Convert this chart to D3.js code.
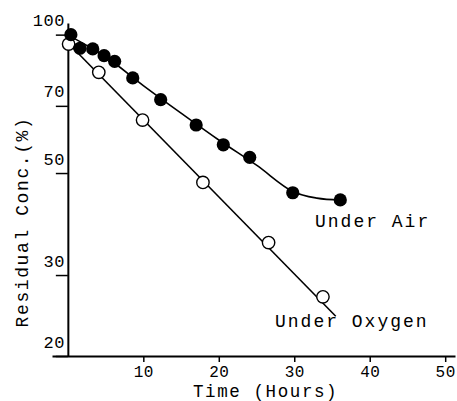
<!DOCTYPE html>
<html>
<head>
<meta charset="utf-8">
<script src="https://cdn.jsdelivr.net/npm/d3@7"></script>
<style>
	html, body { margin: 0; padding: 0; background: #fff; }
	svg { display: block; }
	text { font-family: "Liberation Mono", "DejaVu Sans Mono", monospace; fill: #000; }
</style>
</head>
<body>
<div id="chart"></div>
<script>
(function (d3) {

	// Under Air (filled dots)
	var air_time = [0.4, 1.6, 3.3, 4.8, 6.2, 8.6, 12.3, 17.0, 20.6, 24.1, 29.8, 36.1];
	var air_conc = [100, 93.4, 93.1, 90.0, 87.5, 80.5, 72.2, 63.6, 57.6, 54.1, 45.3, 43.7];

	// Under Oxygen (open dots)
	var oxy_time = [0.1, 4.1, 9.9, 17.9, 26.6, 33.8];
	var oxy_conc = [95.4, 82.8, 65.2, 47.7, 35.3, 26.9];

	// hand drawn fit lines
	var air_fit = [[0.4, 99], [5, 89.5], [10, 77.5], [15, 67.5], [20, 59], [25, 52], [29.8, 45.6], [33, 44.1], [36.1, 43.7]];
	var oxy_fit = [[0, 96], [35.5, 24.4]];

	var x_ticks = [10, 20, 30, 40, 50];
	var y_ticks = [20, 30, 50, 70, 100];

	var width = 457, height = 401;

	var svg = d3.select('#chart').append('svg')
		.attr('width', width)
		.attr('height', height);

	var x = d3.scaleLinear().domain([-2.1, 51.3]).range([52, 455]);
	var y = d3.scaleLog().domain([20, 106]).range([356, 23]);

	// x axis, ticks hang below the line
	var x_axis = d3.axisBottom(x)
		.tickValues(x_ticks)
		.tickSize(6)
		.tickSizeOuter(0)
		.tickFormat(d3.format('d'));

	var gx = svg.append('g')
		.attr('transform', 'translate(0,' + y(20) + ')')
		.call(x_axis);
	gx.select('.domain').attr('stroke-width', 2);
	gx.selectAll('.tick line').attr('stroke-width', 1.5);
	gx.selectAll('.tick text')
		.attr('y', 21)
		.attr('dy', 0)
		.attr('fill', '#000')
		.style('font-size', '16px')
		.style('letter-spacing', '0.5px');

	// y axis (log)
	var y_axis = d3.axisLeft(y)
		.tickValues(y_ticks)
		.tickSize(12)
		.tickSizeOuter(0)
		.tickFormat(d3.format('d'));

	var gy = svg.append('g')
		.attr('transform', 'translate(' + x(0) + ',0)')
		.call(y_axis);
	gy.select('.domain').attr('stroke-width', 2);
	gy.selectAll('.tick line').attr('stroke-width', 1.5);
	gy.selectAll('.tick text')
		.attr('x', -3)
		.attr('y', -9)
		.attr('dy', 0)
		.attr('fill', '#000')
		.style('font-size', '17px')
		.style('letter-spacing', '0.5px');

	var line = d3.line()
		.x(function(d) { return x(d[0]); })
		.y(function(d) { return y(d[1]); });

	svg.append('path')
		.attr('d', line.curve(d3.curveCatmullRom.alpha(0.5))(air_fit))
		.attr('fill', 'none')
		.attr('stroke', '#000')
		.attr('stroke-width', 1.6);

	svg.append('path')
		.attr('d', line.curve(d3.curveLinear)(oxy_fit))
		.attr('fill', 'none')
		.attr('stroke', '#000')
		.attr('stroke-width', 1.6);

	svg.append('g').selectAll('circle')
		.data(d3.zip(oxy_time, oxy_conc))
		.enter().append('circle')
		.attr('cx', function(d) { return x(d[0]); })
		.attr('cy', function(d) { return y(d[1]); })
		.attr('r', 6.2)
		.attr('fill', '#fff')
		.attr('stroke', '#000')
		.attr('stroke-width', 1.4);

	svg.append('g').selectAll('circle')
		.data(d3.zip(air_time, air_conc))
		.enter().append('circle')
		.attr('cx', function(d) { return x(d[0]); })
		.attr('cy', function(d) { return y(d[1]); })
		.attr('r', 6.6)
		.attr('fill', '#000');

	// series labels
	svg.append('text')
		.attr('x', 315).attr('y', 227)
		.style('font-size', '18px')
		.style('letter-spacing', '2px')
		.text('Under Air');

	svg.append('text')
		.attr('x', 275).attr('y', 327)
		.style('font-size', '18px')
		.style('letter-spacing', '2px')
		.text('Under Oxygen');

	// axis titles
	svg.append('text')
		.attr('x', 193).attr('y', 397)
		.style('font-size', '17.5px')
		.style('letter-spacing', '1.6px')
		.text('Time (Hours)');

	svg.append('text')
		.attr('transform', 'translate(28,222) rotate(-90)')
		.attr('text-anchor', 'middle')
		.style('font-size', '18px')
		.style('letter-spacing', '1.6px')
		.text('Residual Conc.(%)');

}(d3));
</script>
</body>
</html>
